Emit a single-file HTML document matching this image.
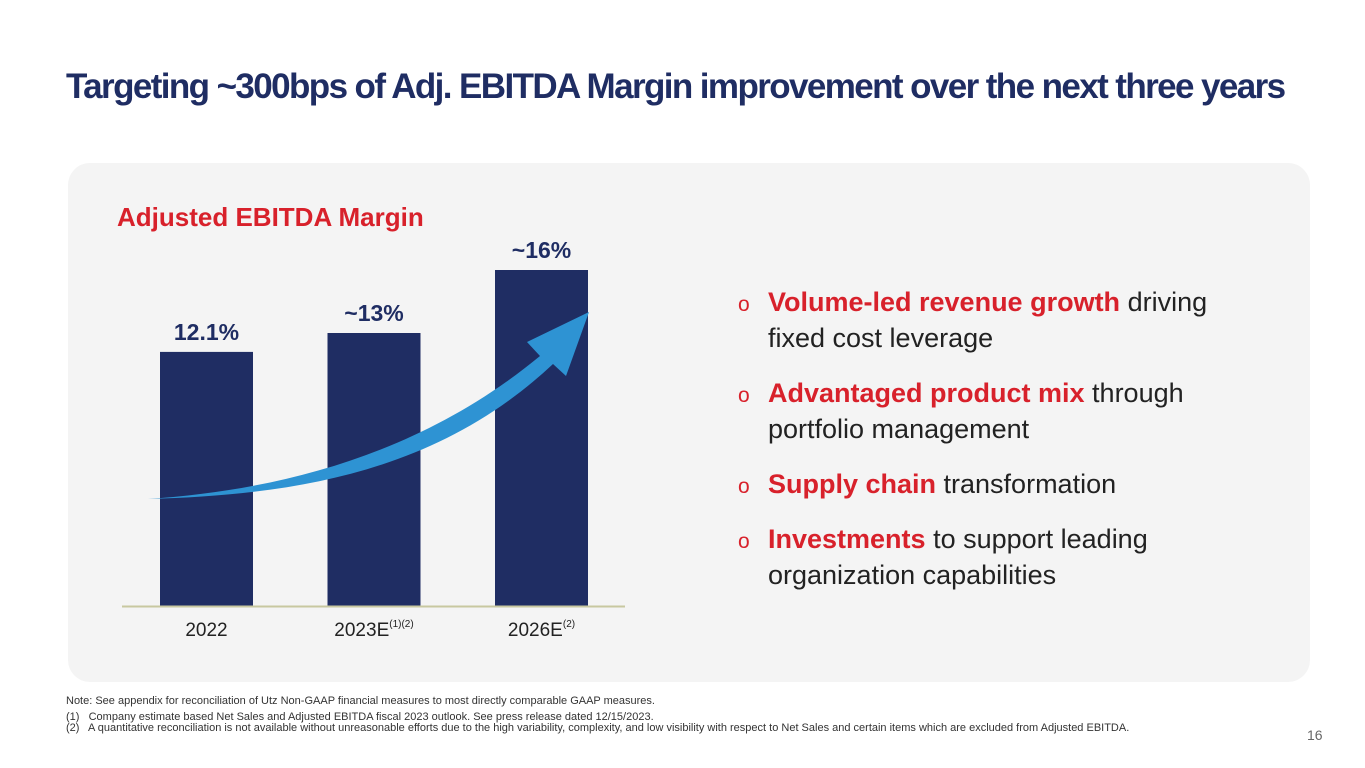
<!DOCTYPE html>
<html><head><meta charset="utf-8"><style>
body{margin:0;width:1365px;height:768px;background:#fff;font-family:"Liberation Sans",sans-serif;position:relative;overflow:hidden}
.t{position:absolute}
.b{padding-left:30px;text-indent:-30px;margin-bottom:19px;height:72px}
.b span{color:#d8212b;font-size:21px;display:inline-block;width:30px;text-indent:0;line-height:20px}
</style></head><body>
<div class="t" style="left:66px;top:67px;font-size:35px;font-weight:bold;color:#1f2d63;letter-spacing:-1.6px;white-space:nowrap">Targeting ~300bps of Adj. EBITDA Margin improvement over the next three years</div>
<div style="position:absolute;left:68px;top:163px;width:1242px;height:519px;background:#f4f4f4;border-radius:22px"></div>
<div class="t" style="left:117px;top:202px;font-size:26px;font-weight:bold;color:#d8212b;white-space:nowrap">Adjusted EBITDA Margin</div>
<svg id="chart" width="1365" height="768" style="position:absolute;left:0;top:0"></svg>
<div class="t" style="left:738px;top:284px;font-size:27px;line-height:36px;color:#222;white-space:nowrap">
<div class="b"><span>o</span><b style="color:#d8212b">Volume-led revenue growth</b> driving<br>fixed cost leverage</div>
<div class="b"><span>o</span><b style="color:#d8212b">Advantaged product mix</b> through<br>portfolio management</div>
<div class="b" style="height:36px"><span>o</span><b style="color:#d8212b">Supply chain</b> transformation</div>
<div class="b"><span>o</span><b style="color:#d8212b">Investments</b> to support leading<br>organization capabilities</div>
</div>
<div class="t" style="left:66px;top:696px;font-size:11px;color:#333;line-height:11px;white-space:nowrap">
<div style="margin-bottom:5px">Note: See appendix for reconciliation of Utz Non-GAAP financial measures to most directly comparable GAAP measures.</div>
<div>(1)&nbsp;&nbsp; Company estimate based Net Sales and Adjusted EBITDA fiscal 2023 outlook. See press release dated 12/15/2023.</div>
<div>(2)&nbsp;&nbsp; A quantitative reconciliation is not available without unreasonable efforts due to the high variability, complexity, and low visibility with respect to Net Sales and certain items which are excluded from Adjusted EBITDA.</div>
</div>
<div class="t" style="left:1307px;top:727px;font-size:14px;color:#666">16</div>
<script>
const categories=["2022","2023E","2026E"];
const sups=["","(1)(2)","(2)"];
const values=[12.1,13,16];
const labels=["12.1%","~13%","~16%"];
const svg=document.getElementById('chart');const NS='http://www.w3.org/2000/svg';
const base=606,k=21;
const y=v=>base-v*k;
const x=i=>160+i*167.5;
const bw=93;
function mk(t,a){const e=document.createElementNS(NS,t);for(const n in a)e.setAttribute(n,a[n]);svg.appendChild(e);return e;}
categories.forEach((c,i)=>{
 const r=mk('rect',{x:x(i),y:y(values[i]),width:bw,height:base-y(values[i]),fill:'#1f2d63'});
 
 
 const l=mk('text',{x:x(i)+bw/2,y:y(values[i])-12,'text-anchor':'middle','font-size':23,'font-weight':'bold',fill:'#1f2d63'});l.textContent=labels[i];
 
 
 const t=mk('text',{x:x(i)+bw/2,y:636,'text-anchor':'middle','font-size':19,fill:'#222'});t.textContent=c;
 
 
 if(sups[i]){const s=document.createElementNS(NS,'tspan');s.setAttribute('font-size',10);s.setAttribute('dy',-9);s.textContent=sups[i];t.appendChild(s);}
});
const ax=mk('line',{x1:122,x2:625,y1:606.5,y2:606.5,stroke:'#c8c8a0','stroke-width':2});


const ar=mk('path',{d:'M148,499 C280,490 420,455 540,356 L527,342 L589,312 L566,376 L553,364 C440,470 300,495 148,499 Z',fill:'#2e93d3'});


</script>
</body></html>
